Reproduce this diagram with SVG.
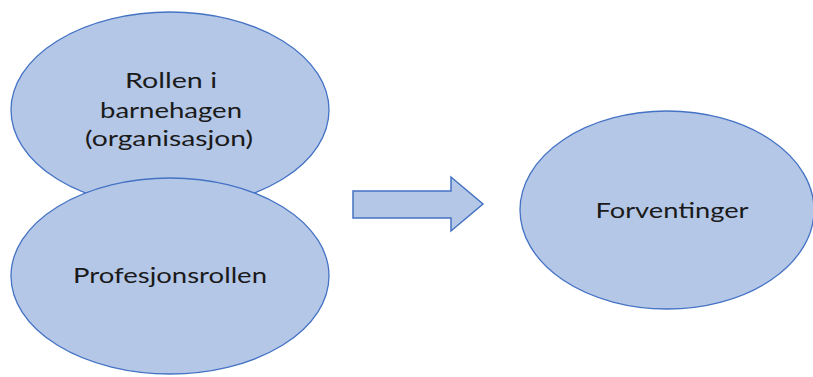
<svg xmlns="http://www.w3.org/2000/svg" width="813" height="377" viewBox="0 0 813 377">
<style>
.node{fill:#B4C7E7;stroke:#4472C4;stroke-width:1.3}
.lbl{font-family:Lato,"Open Sans","Liberation Sans",sans-serif;font-size:21px;fill:#1a1a1a;text-anchor:middle}
.arrow{fill:#B4C7E7;stroke:#4472C4;stroke-width:1.5;stroke-linejoin:miter}
</style>
<rect width="813" height="377" fill="#ffffff"/>
<g id="rollen">
<ellipse class="node" cx="170" cy="110" rx="159" ry="98"/>
<text class="lbl" x="171" y="88" textLength="92" lengthAdjust="spacingAndGlyphs">Rollen i</text>
<text class="lbl" x="171" y="118" textLength="142" lengthAdjust="spacingAndGlyphs">barnehagen</text>
<text class="lbl" x="169" y="146" textLength="168" lengthAdjust="spacingAndGlyphs">(organisasjon)</text>
</g>
<g id="profesjon">
<ellipse class="node" cx="170" cy="276" rx="159" ry="98"/>
<text class="lbl" x="170" y="283" textLength="194" lengthAdjust="spacingAndGlyphs">Profesjonsrollen</text>
</g>
<g id="connectors">
<path class="arrow" d="M353,191 L451,191 L451,177 L483,204 L451,231 L451,218 L353,218 Z"/>
</g>
<g id="forventinger">
<ellipse class="node" cx="667" cy="210" rx="147" ry="99"/>
<text class="lbl" x="672" y="218" textLength="153" lengthAdjust="spacingAndGlyphs">Forventinger</text>
</g>
</svg>
